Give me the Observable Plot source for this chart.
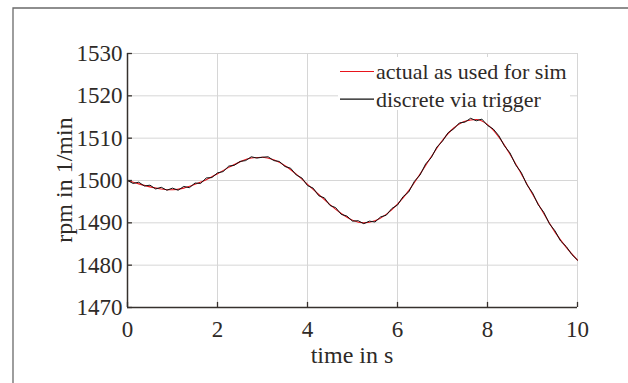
<!DOCTYPE html>
<html>
<head>
<meta charset="utf-8">
<script src="https://cdn.jsdelivr.net/npm/d3@7"></script>
<script src="https://cdn.jsdelivr.net/npm/@observablehq/plot@0.6"></script>
<style>
  html, body { margin: 0; padding: 0; background: #fff; }
  #chart { width: 628px; height: 383px; overflow: hidden; }
</style>
</head>
<body>
<div id="chart"></div>
<script>
// ---- data ----
const xTicks = [0, 2, 4, 6, 8, 10];
const yTicks = [1470, 1480, 1490, 1500, 1510, 1520, 1530];
const seriesNames = ["actual as used for sim", "discrete via trigger"];
const xLabel = "time in s";
const yLabel = "rpm in 1/min";

// actual (smooth) speed, sampled every 0.25 s
const actualT = [0, 0.25, 0.5, 0.75, 1, 1.25, 1.5, 1.75, 2, 2.25, 2.5, 2.75, 3, 3.25, 3.5, 3.75, 4, 4.25, 4.5, 4.75, 5, 5.25, 5.5, 5.75, 6, 6.25, 6.5, 6.75, 7, 7.25, 7.5, 7.75, 8, 8.25, 8.5, 8.75, 9, 9.25, 9.5, 9.75, 10];
const actualRpm = [1500.0, 1499.2, 1498.5, 1498.0, 1497.8, 1498.2, 1499.1, 1500.2, 1501.6, 1503.1, 1504.4, 1505.3, 1505.5, 1504.9, 1503.5, 1501.5, 1499.1, 1496.7, 1494.3, 1492.2, 1490.6, 1490.0, 1490.5, 1492.0, 1494.4, 1497.6, 1501.5, 1505.6, 1509.5, 1512.4, 1514.0, 1514.4, 1513.2, 1510.3, 1506.2, 1501.6, 1496.8, 1492.2, 1487.8, 1484.2, 1481.2];

// discrete (trigger) speed, sampled every 0.125 s
const discreteT = [0, 0.125, 0.25, 0.375, 0.5, 0.625, 0.75, 0.875, 1, 1.125, 1.25, 1.375, 1.5, 1.625, 1.75, 1.875, 2, 2.125, 2.25, 2.375, 2.5, 2.625, 2.75, 2.875, 3, 3.125, 3.25, 3.375, 3.5, 3.625, 3.75, 3.875, 4, 4.125, 4.25, 4.375, 4.5, 4.625, 4.75, 4.875, 5, 5.125, 5.25, 5.375, 5.5, 5.625, 5.75, 5.875, 6, 6.125, 6.25, 6.375, 6.5, 6.625, 6.75, 6.875, 7, 7.125, 7.25, 7.375, 7.5, 7.625, 7.75, 7.875, 8, 8.125, 8.25, 8.375, 8.5, 8.625, 8.75, 8.875, 9, 9.125, 9.25, 9.375, 9.5, 9.625, 9.75, 9.875, 10];
const discreteRpm = [1500.0, 1499.3, 1499.6, 1498.7, 1498.9, 1498.0, 1498.4, 1497.7, 1498.2, 1497.7, 1498.6, 1498.3, 1499.4, 1499.3, 1500.6, 1500.7, 1501.8, 1502.1, 1503.4, 1503.6, 1504.5, 1504.7, 1505.6, 1505.3, 1505.5, 1505.6, 1504.7, 1504.5, 1503.3, 1502.9, 1501.3, 1500.6, 1498.8, 1498.2, 1496.4, 1495.9, 1494.1, 1493.6, 1492.0, 1491.6, 1490.4, 1490.5, 1489.8, 1490.4, 1490.2, 1491.4, 1491.8, 1493.4, 1494.2, 1496.2, 1497.3, 1499.8, 1501.3, 1503.9, 1505.4, 1507.9, 1509.3, 1511.3, 1512.2, 1513.6, 1513.8, 1514.7, 1514.1, 1514.5, 1513.0, 1512.2, 1510.6, 1508.2, 1506.5, 1503.7, 1501.9, 1499.0, 1497.1, 1494.3, 1492.5, 1489.8, 1488.1, 1485.7, 1484.4, 1482.5, 1481.2];

const actual = actualT.map((t, i) => ({t, rpm: actualRpm[i]}));
const discrete = discreteT.map((t, i) => ({t, rpm: discreteRpm[i]}));

const textColor = "#2e2a27";
const axisColor = "#36312d";
const gridColor = "#d6d6d6";
const red = "#e8141b";
const black = "#111111";
const serif = "'Liberation Serif', 'Times New Roman', serif";

const chart = Plot.plot({
  width: 628,
  height: 383,
  marginLeft: 127,
  marginRight: 51,
  marginTop: 53,
  marginBottom: 76,
  x: {domain: [0, 10]},
  y: {domain: [1470, 1530]},
  style: {fontFamily: serif, fontSize: "23px", color: textColor, background: "white", overflow: "visible"},
  marks: [
    Plot.gridX(xTicks, {stroke: gridColor, strokeOpacity: 1, strokeWidth: 1}),
    Plot.gridY(yTicks, {stroke: gridColor, strokeOpacity: 1, strokeWidth: 1}),
    Plot.axisX(xTicks, {tickSize: 0, tickPadding: 13, label: null, fontSize: 23, fill: textColor, tickFormat: d => String(d)}),
    Plot.axisY(yTicks, {tickSize: 0, tickPadding: 5, label: null, fontSize: 23, fill: textColor, tickFormat: d => String(d)}),
    Plot.line(actual, {x: "t", y: "rpm", stroke: red, strokeWidth: 1.1, curve: "monotone-x"}),
    Plot.line(discrete, {x: "t", y: "rpm", stroke: black, strokeWidth: 1}),
    // axis lines
    Plot.ruleX([0], {stroke: axisColor, strokeWidth: 1.5}),
    Plot.ruleY([1470], {stroke: axisColor, strokeWidth: 1.5}),
    // inward ticks
    Plot.ruleX(xTicks, {y1: 1470, y2: 1471.2, stroke: axisColor, strokeWidth: 1.3}),
    Plot.ruleY(yTicks, {x1: 0, x2: 0.11, stroke: axisColor, strokeWidth: 1.3})
  ]
});

document.getElementById("chart").appendChild(chart);

const svg = d3.select(chart);

// outer figure border (left and top)
svg.append("path")
  .attr("d", "M13,383 L13,8 L628,8")
  .attr("fill", "none")
  .attr("stroke", "#6a6a6a")
  .attr("stroke-width", 1.3);

// axis titles
svg.append("text")
  .attr("x", 352).attr("y", 363)
  .style("text-anchor", "middle")
  .style("font-family", serif)
  .style("font-size", "24px")
  .attr("fill", textColor)
  .text(xLabel);

svg.append("text")
  .attr("transform", "translate(72,180) rotate(-90)")
  .style("text-anchor", "middle")
  .style("font-family", serif)
  .style("font-size", "24px")
  .attr("fill", textColor)
  .text(yLabel);

// legend
const lg = svg.append("g");
lg.append("rect")
  .attr("x", 338).attr("y", 57).attr("width", 232).attr("height", 53)
  .attr("fill", "white");
const colors = [red, black];
seriesNames.forEach((name, i) => {
  const cy = 71.5 + i * 27.6;
  lg.append("line")
    .attr("x1", 340).attr("x2", 374).attr("y1", cy).attr("y2", cy)
    .attr("stroke", colors[i]).attr("stroke-width", 1.1);
  lg.append("text")
    .attr("x", 376).attr("y", cy + 7.5)
    .style("text-anchor", "start")
    .style("font-family", serif)
    .style("font-size", "22px")
    .attr("fill", textColor)
    .text(name);
});
</script>
</body>
</html>
